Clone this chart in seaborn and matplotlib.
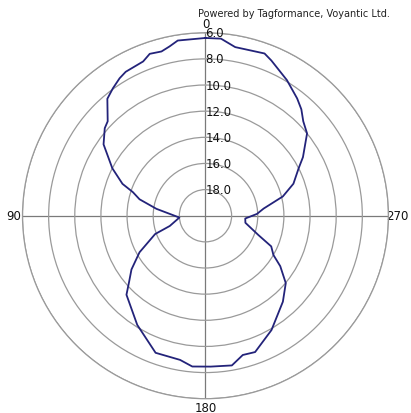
import numpy as np
import pandas as pd
import matplotlib
matplotlib.use("Agg")
import matplotlib.pyplot as plt
import seaborn as sns

# angle in degrees (0 = top, counterclockwise) and measured level
angles = [0, 9, 12, 15, 19, 22, 29, 32, 36, 40, 46, 49, 55, 63, 69, 72, 76, 82,
          94, 106, 110, 119, 126, 131, 135, 148, 160, 170, 175, 182, 190, 195,
          200, 210, 222, 230, 236, 240, 245, 250, 260, 266, 272, 277, 284, 290,
          297, 301, 309, 314, 318, 322, 329, 337, 340, 350, 355]
values = [6.40, 6.43, 6.76, 6.99, 6.90, 7.27, 7.41, 7.60, 7.95, 8.32, 9.60, 9.79,
          10.48, 12.0, 13.2, 14.16, 14.8, 16.21, 18.0, 17.16, 15.9, 14.23, 13.0,
          12.25, 11.45, 10.15, 8.84, 8.8, 8.42, 8.45, 8.37, 8.97, 8.9, 9.9, 11.15,
          11.98, 13.1, 14.0, 14.45, 15.7, 16.9, 16.95, 16.06, 15.52, 13.9, 12.84,
          12.0, 11.3, 10.0, 9.6, 9.04, 8.61, 7.9, 7.1, 6.79, 6.9, 6.4]

ring_values = [6, 8, 10, 12, 14, 16, 18]
ring_labels = ["6.0", "8.0", "10.0", "12.0", "14.0", "16.0", "18.0"]
angle_ticks = [0, 90, 180, 270]
angle_labels = ["0", "90", "180", "270"]

sns.set_style("white")
plt.rcParams['font.family'] = ['DejaVu Sans']

df = pd.DataFrame({'theta': np.deg2rad(angles + [angles[0]]),
                   'level': values + [values[0]]})

fig = plt.figure(figsize=(4.11, 4.14), dpi=100)
ax = fig.add_axes([0.0547, 0.0345, 0.8905, 0.884], projection='polar')
ax.set_theta_zero_location('N')
ax.set_theta_direction(1)

sns.lineplot(data=df, x='theta', y='level', sort=False, ax=ax,
             color='#23237a', linewidth=1.3, estimator=None)

ax.set_ylim(20, 6)
ax.set_yticks(ring_values)
ax.set_yticklabels([])
ax.set_xticks(np.deg2rad(angle_ticks))
ax.set_xticklabels(angle_labels, fontsize=8.5, color='#111111')
ax.tick_params(axis='x', pad=-4)
ax.grid(True, color='#9a9a9a', linewidth=0.9)
ax.xaxis.grid(True, color='#7a7a7a', linewidth=0.9)
ax.spines['polar'].set_color('#9a9a9a')
ax.spines['polar'].set_linewidth(0.9)
ax.set_xlabel('')
ax.set_ylabel('')

for r, lab in zip(ring_values, ring_labels):
    ax.text(0, r, lab, ha='left', va='center', fontsize=8.5, color='#111111')

fig.text(0.482, 0.966, "Powered by Tagformance, Voyantic Ltd.", ha='left', va='center',
         fontsize=7, color='#222222')

fig.savefig("out.png", dpi=100)
